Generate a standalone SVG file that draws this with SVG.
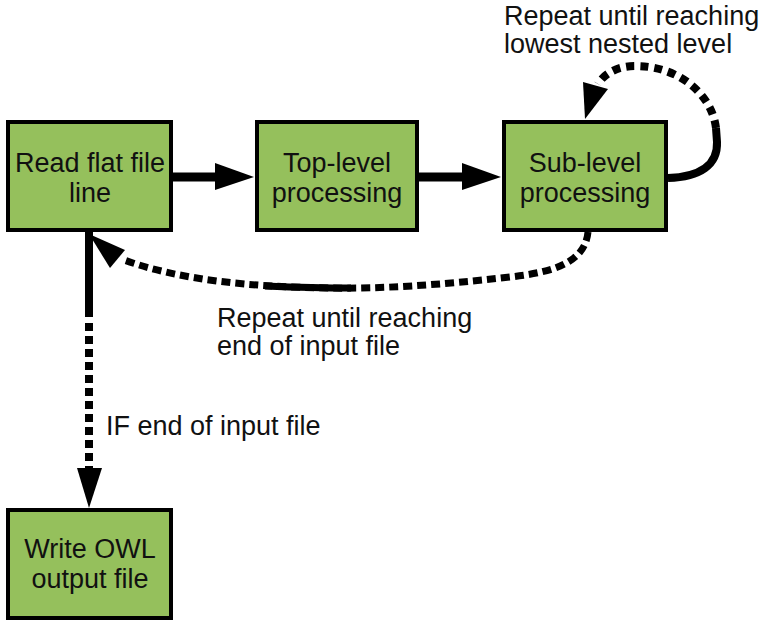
<svg xmlns="http://www.w3.org/2000/svg" width="773" height="628" viewBox="0 0 773 628">
<style>
.box{fill:#95C05C;stroke:#000;stroke-width:4}
.t{font-family:"Liberation Sans",Arial,sans-serif;font-size:27px;fill:#111}
.c{text-anchor:middle}
.ln{fill:none;stroke:#000}
.ah{fill:#000}
</style>
<rect width="773" height="628" fill="#fff"/>
<g id="connectors">
  <line class="ln" x1="173" y1="177" x2="217" y2="177" stroke-width="9"/>
  <polygon class="ah" points="215,163 254,177 215,190"/>
  <line class="ln" x1="419" y1="177" x2="464" y2="177" stroke-width="9"/>
  <polygon class="ah" points="462,163 501,177 462,190"/>
  <path class="ln" d="M668,178 C700,177 718,165 717,142 L716,128" stroke-width="8"/>
  <path class="ln" d="M716,128 C712,95 680,66 635,66 C617,66 604,74 598,84" stroke-width="8" stroke-dasharray="8 6"/>
  <polygon class="ah" points="583,82 608,89 585,119"/>
  <path class="ln" d="M588,232 C585,262 555,272 510,277 C440,285 380,289 330,288 C250,287 180,280 124,260" stroke-width="7" stroke-dasharray="9 5"/>
  <path class="ln" d="M351,288 C320,288 290,287 265,286" stroke-width="7"/>
  <polygon class="ah" points="89,234 125,250 110,268"/>
  <line class="ln" x1="89" y1="232" x2="89" y2="317" stroke-width="8"/>
  <line class="ln" x1="89" y1="323" x2="89" y2="468" stroke-width="8" stroke-dasharray="8 5"/>
  <polygon class="ah" points="77,468 102,468 89,508"/>
</g>
<g id="read">
  <rect class="box" x="8" y="122" width="163" height="108"/>
  <text class="t c" x="90" y="172">Read flat file</text>
  <text class="t c" x="90" y="202">line</text>
</g>
<g id="top">
  <rect class="box" x="257" y="122" width="160" height="108"/>
  <text class="t c" x="337" y="172">Top-level</text>
  <text class="t c" x="337" y="202">processing</text>
</g>
<g id="sub">
  <rect class="box" x="504" y="122" width="162" height="108"/>
  <text class="t c" x="585" y="172">Sub-level</text>
  <text class="t c" x="585" y="202">processing</text>
</g>
<g id="write">
  <rect class="box" x="8" y="510" width="163" height="108"/>
  <text class="t c" x="90" y="558">Write OWL</text>
  <text class="t c" x="90" y="588">output file</text>
</g>
<g id="labels">
  <text class="t" x="504" y="25">Repeat until reaching</text>
  <text class="t" x="504" y="53">lowest nested level</text>
  <text class="t" x="217" y="327">Repeat until reaching</text>
  <text class="t" x="217" y="355">end of input file</text>
  <text class="t" x="106" y="435">IF end of input file</text>
</g>
</svg>
